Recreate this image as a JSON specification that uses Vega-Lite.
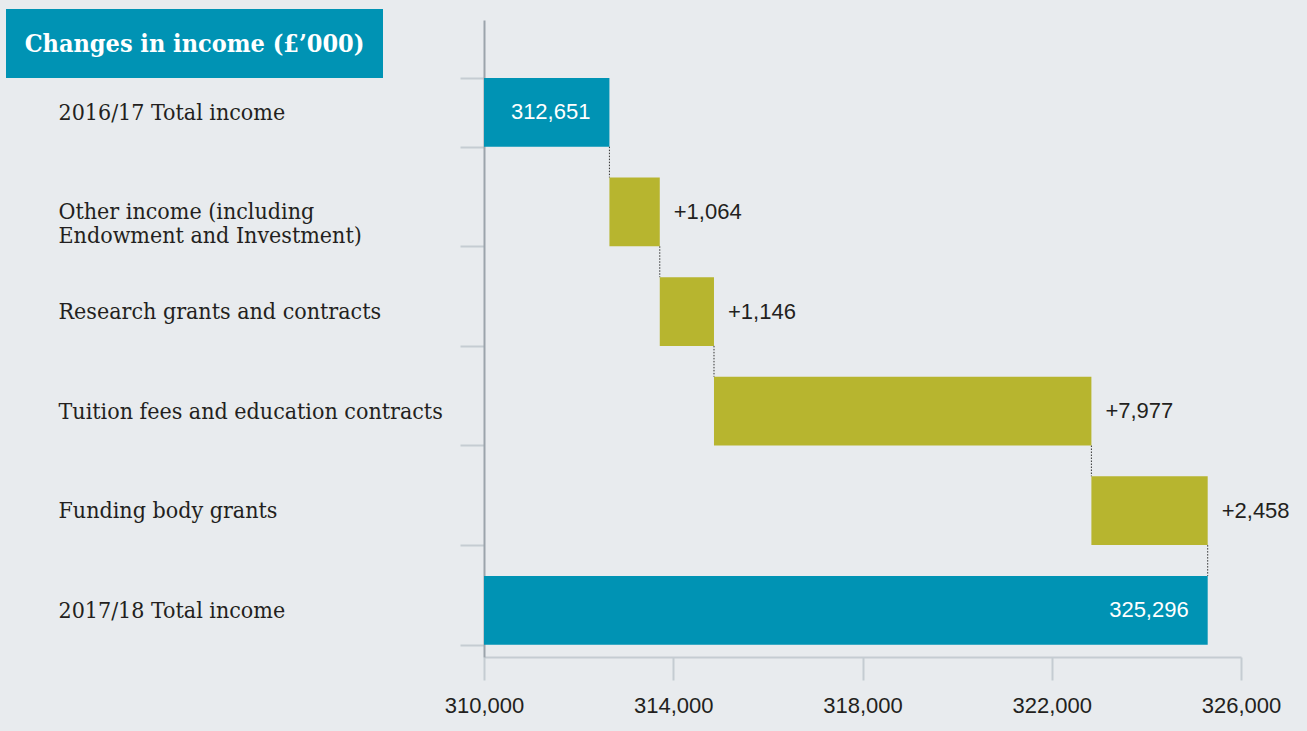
{
  "$schema": "https://vega.github.io/schema/vega-lite/v6.json",
  "background": "#e8ebee",
  "padding": {"left": 6, "top": 9, "right": 0, "bottom": 0},
  "autosize": {"type": "pad"},
  "spacing": 0,
  "bounds": "flush",
  "config": {"view": {"stroke": null}},
  "vconcat": [
    {
      "width": 377,
      "height": 69,
      "view": {"fill": "#0093b4", "stroke": null},
      "data": {"values": [{"t": "Changes in income (£’000)"}]},
      "mark": {"type": "text", "font": "DejaVu Serif Condensed, DejaVu Serif", "fontWeight": "bold", "fontSize": 25, "color": "white"},
      "encoding": {"text": {"field": "t", "type": "nominal"}}
    },
    {
      "width": 1301,
      "height": 653,
      "data": {
        "values": [
          {"cat": "2016/17 Total income", "start": 310000, "end": 312651, "change": null, "kind": "total"},
          {"cat": "Other income (including Endowment and Investment)", "start": 312651, "end": 313715, "change": 1064, "kind": "change"},
          {"cat": "Research grants and contracts", "start": 313715, "end": 314861, "change": 1146, "kind": "change"},
          {"cat": "Tuition fees and education contracts", "start": 314861, "end": 322838, "change": 7977, "kind": "change"},
          {"cat": "Funding body grants", "start": 322838, "end": 325296, "change": 2458, "kind": "change"},
          {"cat": "2017/18 Total income", "start": 310000, "end": 325296, "change": null, "kind": "total"}
        ]
      },
      "encoding": {
        "y": {
          "field": "cat",
          "type": "nominal",
          "sort": null,
          "title": null,
          "scale": {"range": [-58, 579], "paddingInner": 0.31, "paddingOuter": 0.3525, "align": 0.825, "round": false},
          "axis": {
            "orient": "left",
            "offset": -478,
            "domainColor": "#9ba4ab",
            "domainWidth": 2,
            "tickColor": "#c5ccd2",
            "tickWidth": 2,
            "tickSize": 24,
            "tickBand": "extent",
            "labelAlign": "left",
            "labelBaseline": "middle",
            "labelPadding": 402,
            "labelLimit": 0,
            "labelFont": "DejaVu Serif Condensed, DejaVu Serif",
            "labelFontSize": 23,
            "labelColor": "#231f20",
            "labelLineHeight": 24,
            "labelExpr": "datum.value == 'Other income (including Endowment and Investment)' ? ['Other income (including', 'Endowment and Investment)'] : datum.value"
          }
        }
      },
      "layer": [
        {
          "transform": [
            {"window": [{"op": "lead", "field": "cat", "as": "nextCat"}]},
            {"filter": "datum.nextCat != null"}
          ],
          "mark": {"type": "rule", "strokeDash": [1.5, 1.5], "color": "#333333", "strokeWidth": 1, "yOffset": 34.37, "y2Offset": -34.37},
          "encoding": {
            "x": {"field": "end", "type": "quantitative", "title": null},
            "y2": {"field": "nextCat"}
          }
        },
        {
          "mark": {"type": "bar"},
          "encoding": {
            "x": {
              "field": "start",
              "type": "quantitative",
              "title": null,
              "scale": {"domain": [310000, 326000], "range": [478, 1235], "zero": false, "nice": false},
              "axis": {
                "orient": "bottom",
                "offset": -74,
                "values": [310000, 314000, 318000, 322000, 326000],
                "format": ",d",
                "grid": false,
                "domainColor": "#c5ccd2",
                "domainWidth": 2,
                "tickColor": "#c5ccd2",
                "tickWidth": 2,
                "tickSize": 23,
                "labelPadding": 15,
                "labelFlush": false,
                "labelFont": "Liberation Sans",
                "labelFontSize": 22,
                "labelColor": "#231f20"
              }
            },
            "x2": {"field": "end"},
            "color": {
              "field": "kind",
              "type": "nominal",
              "scale": {"domain": ["total", "change"], "range": ["#0093b4", "#b7b52f"]},
              "legend": null
            }
          }
        },
        {
          "transform": [{"filter": "datum.kind == 'change'"}],
          "mark": {"type": "text", "align": "left", "dx": 14, "font": "Liberation Sans", "fontSize": 22, "color": "#231f20"},
          "encoding": {
            "x": {"field": "end", "type": "quantitative", "title": null},
            "text": {"field": "change", "type": "quantitative", "format": "+,d"}
          }
        },
        {
          "transform": [{"filter": "datum.kind == 'total'"}],
          "mark": {"type": "text", "align": "right", "dx": -19, "font": "Liberation Sans", "fontSize": 22, "color": "white"},
          "encoding": {
            "x": {"field": "end", "type": "quantitative", "title": null},
            "text": {"field": "end", "type": "quantitative", "format": ",d"}
          }
        }
      ]
    }
  ]
}
